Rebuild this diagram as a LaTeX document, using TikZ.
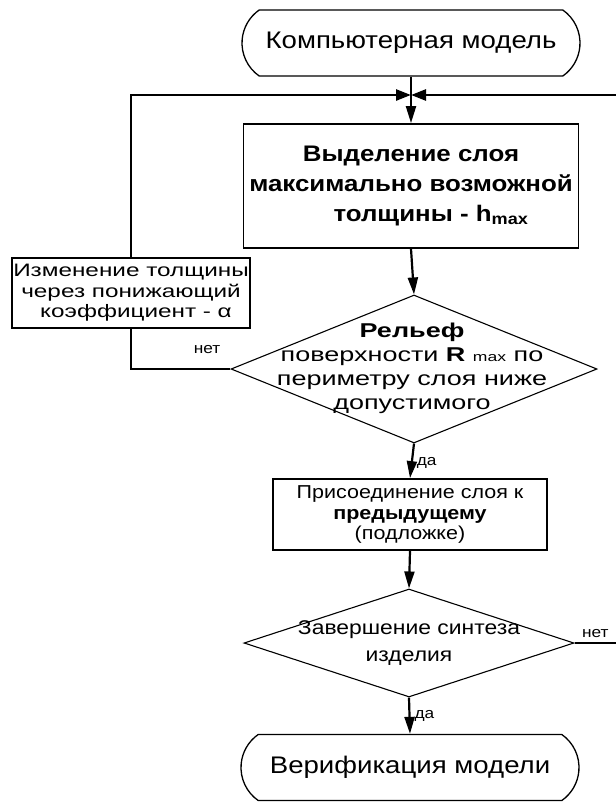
\documentclass[tikz,border=0pt]{standalone}
\usepackage{fontspec}
\setmainfont{Liberation Sans}[FakeStretch=1.15]
\newfontfamily\widefont{Liberation Sans}[FakeStretch=1.35]
\usetikzlibrary{arrows.meta,shapes.geometric,shapes.misc}
\begin{document}
\begin{tikzpicture}[x=1pt,y=-1pt,
  term/.style={draw,line width=1.3pt,rounded rectangle,rounded rectangle arc length=110,minimum width=338pt,minimum height=66pt,inner sep=0pt,font=\fontsize{24}{28}\selectfont},
  procbox/.style={draw,line width=1.8pt,inner sep=0pt,align=center},
  decis/.style={draw,line width=1.1pt,diamond,inner sep=0pt,aspect=1},
  loopline/.style={line width=2.6pt},
  flow/.style={line width=2.2pt,-{Triangle[length=17pt,width=10pt]}},
  side/.style={line width=2.6pt,-{Triangle[length=15pt,width=11pt]}},
  small/.style={font=\fontsize{15}{17}\selectfont,inner sep=1pt}
]
\useasboundingbox (0,0) rectangle (616,812);

\node[term] (t1) at (411,43) {Компьютерная модель};
\coordinate (J) at (411,95);
\node[procbox,minimum width=335pt,minimum height=124pt,font=\fontsize{22.5}{30}\selectfont\bfseries] (b1) at (411,186)
  {Выделение слоя\\максимально возможной\\\hspace*{40pt}толщины - h\textsubscript{max}};
\node[decis,minimum width=366pt,minimum height=148pt] (d1) at (414,369) {};
\node[align=center,font=\widefont\fontsize{20}{24}\selectfont,inner sep=0pt] (d1t) at (412,368)
  {\bfseries Рельеф\\поверхности {\bfseries R} {\fontsize{13}{15}\selectfont max} по\\периметру слоя ниже\\допустимого};
\node[procbox,minimum width=238pt,minimum height=70pt,font=\widefont\fontsize{18}{20.5}\selectfont] (iz) at (131,293)
  {Изменение толщины\\через понижающий\\\hspace*{10pt}коэффициент - α};
\node[procbox,minimum width=274pt,minimum height=71pt,font=\fontsize{18.7}{20.5}\selectfont] (b2) at (410,514.5)
  {Присоединение слоя к\\{\bfseries предыдущему}\\(подложке)};
\node[decis,minimum width=330pt,minimum height=108pt] (d2) at (409,643) {};
\node[align=center,font=\fontsize{19.9}{27}\selectfont,inner sep=0pt] (d2t) at (409,643)
  {Завершение синтеза\\изделия};
\node[term] (t2) at (410,767.5) {Верификация модели};
\coordinate (R1) at (616,95);
\coordinate (R2) at (616,643);

\draw[flow] (t1.south) -- (b1.north);
\draw[side] (iz.north) |- (J);
\draw[side] (R1) -- (J);
\draw[flow] (b1.south) -- (d1.north);
\draw[loopline] (d1.west) -| (iz.south);
\draw[flow] (d1.south) -- (b2.north) node[small,pos=0.55,right=3pt] {да};
\draw[flow] (b2.south) -- (d2.north);
\draw[loopline] (d2.east) -- (R2) node[small,pos=0.5,above=3pt] {нет};
\draw[flow] (d2.south) -- (t2.north) node[small,pos=0.5,right=3pt] {да};
\node[small] (net1) at (207,350) {нет};
\end{tikzpicture}
\end{document}
